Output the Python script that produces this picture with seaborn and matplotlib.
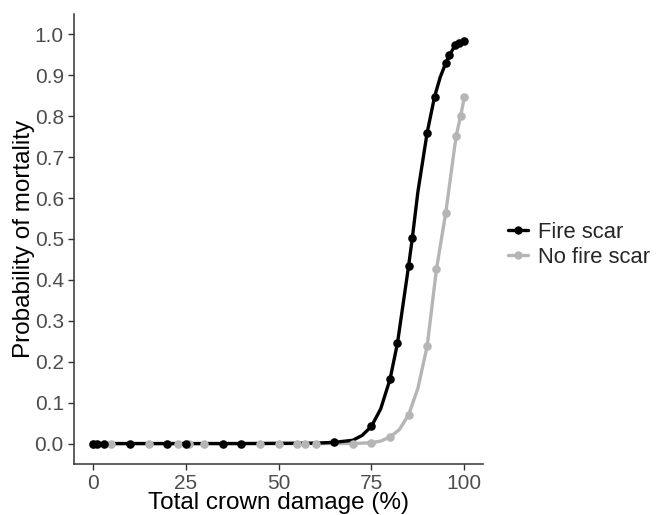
import pandas as pd
import matplotlib.pyplot as plt
from matplotlib.lines import Line2D
import seaborn as sns

# puntos
fire_x = [0, 1, 3, 10, 20, 25, 35, 40, 65, 75, 80, 82, 85, 86, 90, 92, 95, 96, 97.5, 98.5, 100]
fire_y = [0, 0, 0, 0, 0, 0, 0, 0, 0.003, 0.042, 0.157, 0.245, 0.434, 0.502, 0.76, 0.848, 0.93, 0.949, 0.973, 0.98, 0.985]

nofire_x = [0, 5, 15, 23, 26, 30, 45, 50, 55, 57, 60, 70, 75, 80, 85, 90, 92.5, 95, 97.8, 99, 100]
nofire_y = [0, 0, 0, 0, 0, 0, 0, 0, 0, 0, 0, 0, 0.002, 0.016, 0.07, 0.238, 0.426, 0.564, 0.752, 0.80, 0.846]

# curva (mas lecturas en las zonas curvas)
fire_linea_x = [0, 40, 60, 65, 70, 72.5, 75, 77.5, 80, 82, 85, 86, 87.5, 90, 92, 93.5, 95, 96, 97.5, 98.5, 100]
fire_linea_y = [0, 0, 0.001, 0.003, 0.008, 0.02, 0.042, 0.085, 0.157, 0.245, 0.434, 0.502, 0.615, 0.76, 0.848, 0.895, 0.93, 0.949, 0.973, 0.98, 0.985]

nofire_linea_x = [0, 60, 70, 75, 77.5, 80, 82.5, 85, 87.5, 90, 92.5, 95, 97.8, 99, 100]
nofire_linea_y = [0, 0, 0.0, 0.002, 0.006, 0.016, 0.034, 0.07, 0.135, 0.238, 0.426, 0.564, 0.752, 0.80, 0.846]

grupos = ['Fire scar', 'No fire scar']
colores = ['#000000', '#b5b5b5']

df_p = pd.concat([
    pd.DataFrame({'x': fire_x, 'y': fire_y, 'grupo': grupos[0]}),
    pd.DataFrame({'x': nofire_x, 'y': nofire_y, 'grupo': grupos[1]}),
], ignore_index=True)
df_l = pd.concat([
    pd.DataFrame({'x': fire_linea_x, 'y': fire_linea_y, 'grupo': grupos[0]}),
    pd.DataFrame({'x': nofire_linea_x, 'y': nofire_linea_y, 'grupo': grupos[1]}),
], ignore_index=True)

sns.set_style("ticks")
plt.rcParams['font.family'] = ['Liberation Sans', 'DejaVu Sans']

fig = plt.figure(figsize=(6.57, 5.15), dpi=100)
ax = fig.add_axes([0.113, 0.099, 0.622, 0.874])

# primero la gris para que la negra quede encima
for g, c in reversed(list(zip(grupos, colores))):
    sns.lineplot(data=df_l[df_l['grupo'] == g], x='x', y='y', color=c,
                 linewidth=2.4, ax=ax, estimator=None, sort=True)
    sns.scatterplot(data=df_p[df_p['grupo'] == g], x='x', y='y', color=c,
                    s=38, linewidth=0, ax=ax, zorder=3)

ax.set_xlim(-5, 105)
ax.set_ylim(-0.05, 1.05)
ax.set_xticks([0, 25, 50, 75, 100])
ax.set_yticks([i / 10 for i in range(11)])
ax.set_yticklabels([f"{i / 10:.1f}" for i in range(11)])
ax.tick_params(axis='both', colors='#333333', labelcolor='#4d4d4d',
               labelsize=15, length=4, width=1)
for s in ['left', 'bottom']:
    ax.spines[s].set_color('#333333')
    ax.spines[s].set_linewidth(1.1)
sns.despine(ax=ax)

ax.set_xlabel('Total crown damage (%)', fontsize=17.5, color='black', labelpad=-1)
ax.set_ylabel('Probability of mortality', fontsize=17.5, color='black', labelpad=0)

handles = [Line2D([], [], color=c, linewidth=2.4, marker='o', markersize=6,
                  markeredgewidth=0) for c in colores]
ax.legend(handles, grupos, loc='center left', bbox_to_anchor=(1.04, 0.487),
          frameon=False, fontsize=15.8, handlelength=0.9, handletextpad=0.45,
          labelspacing=0.2, borderaxespad=0)

fig.savefig('out.png', dpi=100)
